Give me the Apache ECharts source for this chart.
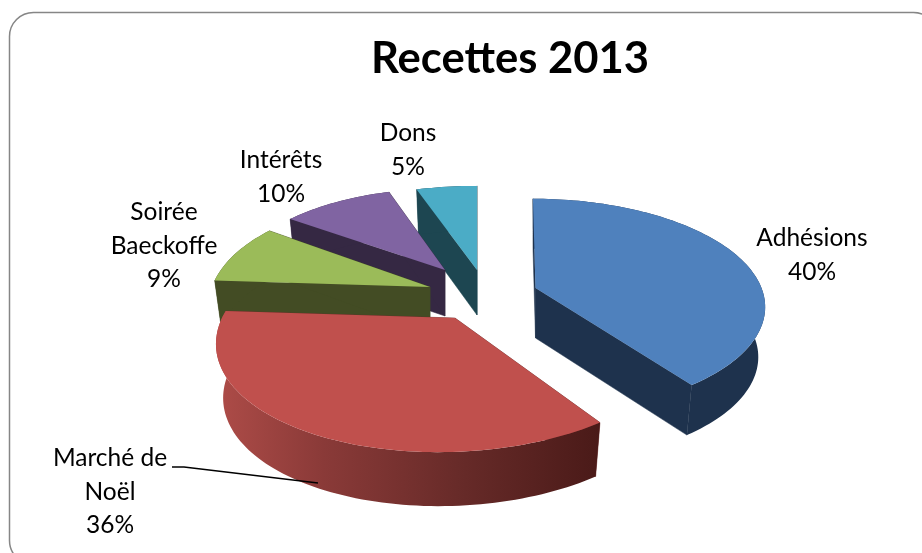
<!DOCTYPE html>
<html><head><meta charset="utf-8">
<style>html,body{margin:0;padding:0;background:#fff}#c{width:922px;height:553px}</style>
<script src="https://cdn.jsdelivr.net/npm/echarts@6/dist/echarts.min.js"></script>
</head><body><div id="c"></div>
<script>
const chartTitle = 'Recettes 2013';
const categories = ['Adhésions', 'Marché de\nNoël', 'Soirée\nBaeckoffe', 'Intérêts', 'Dons'];
const shares = [40, 36, 9, 10, 5];
const topColors = ['#4F81BD', '#C0504D', '#9BBB59', '#8064A2', '#4BACC6'];
const wallColors = ['#1E324D', '#6A2A28', '#434C24', '#352843', '#1D4651'];

// Projection of each exploded slice: apex, radii, skew, thickness (3D look of the original).
const K = 0.165;
const SHRINK = 0.97;
const slicesGeom = [
  {ax: 535.5, ay: 288, rx: 226, ry: 104, sx: -3, d: 50},
  {ax: 455, ay: 318, rx: 233, ry: 112, sx: 14, d: 54},
  {ax: 430, ay: 287, rx: 218, ry: 105, sx: 0,  d: 46},
  {ax: 445, ay: 270, rx: 210, ry: 95,  sx: 0,  d: 46},
  {ax: 477, ay: 270, rx: 226, ry: 98,  sx: 0,  d: 45}
];
const labelAnchors = [
  {x: 812, y: 255}, {x: 110, y: 492}, {x: 164, y: 246}, {x: 281, y: 177}, {x: 408, y: 150}
];
const labelFont = {fontFamily: 'Lato', fontSize: 24.5, fill: '#000', lineHeight: 33.5};

const total = shares.reduce((a, b) => a + b, 0);
const starts = [];
shares.reduce((acc, v, i) => { starts[i] = acc; return acc + v; }, 0);

function project(g, t) {
  const u = Math.sin(t), v = Math.cos(t), w = 1 + K * v;
  return [g.ax + (g.rx * u + g.sx * v) / w, g.ay - g.ry * v / w];
}
function renderSlice(params, api) {
  const i = params.dataIndex, g = slicesGeom[i];
  const t0 = starts[i] / total * 2 * Math.PI;
  const t1 = (starts[i] + api.value(0)) / total * 2 * Math.PI;
  const n = Math.max(8, Math.round((t1 - t0) / (Math.PI / 120)));
  const arc = [];
  for (let k = 0; k <= n; k++) arc.push(project(g, t0 + (t1 - t0) * k / n));
  const down = p => [g.ax + (p[0] - g.ax) * SHRINK, p[1] + g.d];
  const apex = [g.ax, g.ay];
  const z2 = 10 - i;
  const wallFill = i === 1
    ? new echarts.graphic.LinearGradient(1, 0, 0, 0, [
        {offset: 0, color: '#4A1A18'}, {offset: 0.35, color: '#662A28'},
        {offset: 0.72, color: '#8A3A38'}, {offset: 1, color: '#AE4C48'}])
    : wallColors[i];
  const flat = pts => ({type: 'polygon', z2, shape: {points: pts},
    style: {fill: wallColors[i], stroke: wallColors[i], lineWidth: 0.5}});
  const children = [
    flat([apex, arc[0], down(arc[0]), down(apex)]),
    flat([apex, arc[n], down(arc[n]), down(apex)]),
    {type: 'polygon', z2, shape: {points: arc.concat(arc.map(down).reverse())},
      style: {fill: wallFill}},
    {type: 'polygon', z2, shape: {points: [apex].concat(arc)}, style: {fill: topColors[i]}},
    {type: 'text', z2: 30, style: Object.assign({
      text: categories[i] + '\n' + api.value(0) + '%',
      x: labelAnchors[i].x, y: labelAnchors[i].y, align: 'center', verticalAlign: 'middle'
    }, labelFont)}
  ];
  return {type: 'group', children};
}

const chart = echarts.init(document.getElementById('c'), null, {renderer: 'canvas'});
chart.setOption({
  animation: false,
  backgroundColor: '#fff',
  title: {text: chartTitle, left: 505, top: 32, textAlign: 'center',
    textStyle: {fontFamily: 'Lato', fontWeight: 'bold', fontSize: 43.6, color: '#000'}},
  graphic: [
    {type: 'rect', z: -1, shape: {x: 9.5, y: 12.5, width: 928, height: 552, r: 24},
      style: {fill: '#fff', stroke: '#868686', lineWidth: 1.5}},
    {type: 'polyline', z: 5, shape: {points: [[172, 467], [184, 467], [318, 483]]},
      style: {fill: null, stroke: '#000', lineWidth: 1.5}}
  ],
  series: [{type: 'custom', coordinateSystem: 'none', renderItem: renderSlice,
    data: shares.map(v => [v])}]
});
</script></body></html>
